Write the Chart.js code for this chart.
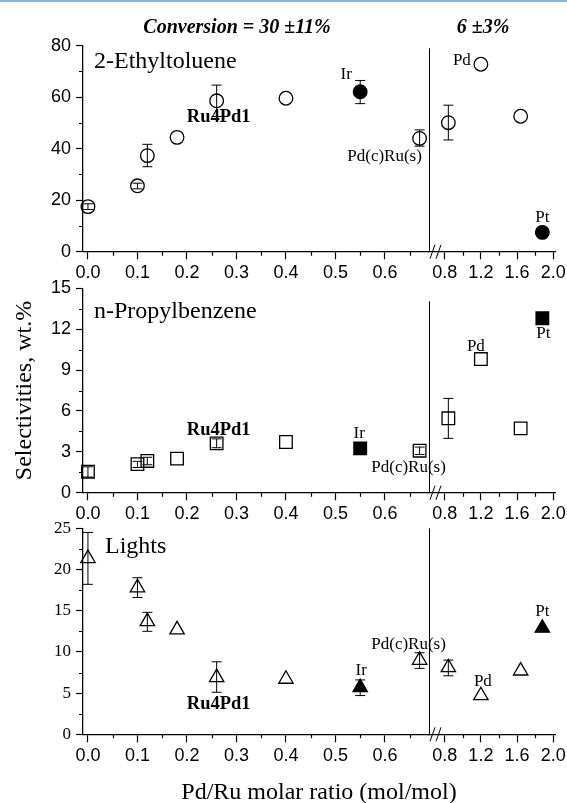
<!DOCTYPE html>
<html>
<head>
<meta charset="utf-8">
<script src="https://cdn.jsdelivr.net/npm/chart.js@4.4.0/dist/chart.umd.min.js"></script>
<style>
  html, body { margin: 0; padding: 0; background: #fff; }
  body { width: 567px; height: 803px; position: relative; overflow: hidden; }
  canvas { position: absolute; left: 0; }
  #topline { position: absolute; left: 0; top: 0; width: 567px; height: 2px; background: #8fb0dd; z-index: 5; }
</style>
</head>
<body>
<div id="topline"></div>
<canvas id="c1" width="567" height="300" style="top:0px"></canvas>
<canvas id="c2" width="567" height="290" style="top:260px"></canvas>
<canvas id="c3" width="567" height="303" style="top:500px"></canvas>
<script>
// Pd/Ru ratio of each catalyst and its name (same for all three panels)
const ratio    = [0.00, 0.10, 0.12, 0.18, 0.26, 0.40, 0.55, 0.67, 0.84, 1.20, 1.64, 1.88];
const catalyst = ['', '', '', '', 'Ru4Pd1', '', 'Ir', 'Pd(c)Ru(s)', '', 'Pd', '', 'Pt'];

// selectivities, wt.% (with error bar ends, null = no bar)
const ethyltoluene     = [17.5, 25.6, 37.3, 44.4, 58.6, 59.6, 62.1, 44.0, 50.1, 72.8, 52.6, 7.5];
const ethyltolueneLow  = [16.4, 24.4, 33.0, null, 52.5, null, 57.5, 41.0, 43.4, null, null, null];
const ethyltolueneHigh = [18.6, 26.6, 41.7, null, 64.7, null, 66.5, 47.3, 56.9, null, null, null];

const propylbenzene     = [1.54, 2.10, 2.33, 2.50, 3.62, 3.72, 3.25, 3.08, 5.46, 9.81, 4.72, 12.8];
const propylbenzeneLow  = [1.15, 1.85, 2.05, null, 3.30, null, null, 2.80, 3.99, null, null, null];
const propylbenzeneHigh = [1.90, 2.30, 2.60, null, 3.95, null, null, 3.35, 6.92, null, null, null];

const lights     = [21.35, 17.8, 13.7, 12.7, 6.9, 6.7, 5.7, 9.0, 8.1, 4.7, 7.7, 12.9];
const lightsLow  = [18.2, 16.6, 12.5, null, 5.1, null, 4.7, 8.0, 7.1, null, null, null];
const lightsHigh = [24.5, 19.0, 14.8, null, 8.8, null, 6.6, 9.9, 9.0, null, null, null];

// tick labels
const ticksLeft   = [0.0, 0.1, 0.2, 0.3, 0.4, 0.5, 0.6];
const ticksRight  = [0.8, 1.2, 1.6, 2.0];
const minorLeft   = [0.05, 0.15, 0.25, 0.35, 0.45, 0.55, 0.65];
const minorRight  = [1.0, 1.4, 1.8];
const ticksEthyl  = [0, 20, 40, 60, 80];
const ticksPropyl = [0, 3, 6, 9, 12, 15];
const ticksLights = [0, 5, 10, 15, 20, 25];

const BREAK_VALUE = 0.7;   // points above this go on the right part of the axis
const BREAK_PX = 429;      // pixel where the axis is broken
const SANS = "'Liberation Sans', Arial, sans-serif";
const SERIF = "'Liberation Serif', 'Times New Roman', serif";

Chart.defaults.font.family = SANS;
Chart.defaults.color = '#000';

function isFilled(name) { return name === 'Ir' || name === 'Pt'; }

function makeDatasets(values, low, high, style, radius) {
  const groups = [['xL', false], ['xL', true], ['xR', false], ['xR', true]];
  return groups.map(([axis, filled]) => {
    const pts = [];
    ratio.forEach((r, i) => {
      if ((r > BREAK_VALUE) === (axis === 'xR') && isFilled(catalyst[i]) === filled) {
        pts.push({ x: r, y: values[i], lo: low[i], hi: high[i], name: catalyst[i] });
      }
    });
    return {
      data: pts,
      xAxisID: axis,
      yAxisID: 'y',
      pointStyle: style,
      pointRadius: radius,
      borderColor: '#000',
      borderWidth: 1.3,
      backgroundColor: filled ? '#000' : 'rgba(0,0,0,0)',
      clip: false
    };
  });
}

function ticksFrom(list) {
  return scale => { scale.ticks = list.map(v => ({ value: v })); };
}

// put the two x scales side by side, with the break between them
const splitAxis = {
  id: 'splitAxis',
  afterLayout(chart) {
    const { xL, xR } = chart.scales;
    const a = chart.chartArea;
    xL.left = a.left; xL.right = BREAK_PX; xL.width = BREAK_PX - a.left; xL.configure();
    xR.left = BREAK_PX; xR.right = a.right; xR.width = a.right - BREAK_PX; xR.configure();
  }
};

// error bars, minor ticks, break marks and text
const decor = {
  id: 'decor',
  beforeDatasetsDraw(chart) {
    const ctx = chart.ctx;
    const y = chart.scales.y;
    ctx.save();
    ctx.strokeStyle = '#000';
    ctx.lineWidth = 1;
    chart.data.datasets.forEach((ds, di) => {
      const meta = chart.getDatasetMeta(di);
      ds.data.forEach((p, i) => {
        if (p.lo == null) return;
        const px = meta.data[i].x;
        const yl = y.getPixelForValue(p.lo), yh = y.getPixelForValue(p.hi);
        ctx.beginPath();
        ctx.moveTo(px, yl); ctx.lineTo(px, yh);
        ctx.moveTo(px - 5, yl); ctx.lineTo(px + 5, yl);
        ctx.moveTo(px - 5, yh); ctx.lineTo(px + 5, yh);
        ctx.stroke();
      });
    });
    ctx.restore();
  },
  afterDraw(chart, args, opts) {
    const ctx = chart.ctx;
    const { xL, xR, y } = chart.scales;
    const a = chart.chartArea;
    const y0 = y.getPixelForValue(0);
    ctx.save();
    ctx.strokeStyle = '#000';
    ctx.lineWidth = 1.2;
    ctx.beginPath();
    opts.minorY.forEach(v => {
      const py = Math.round(y.getPixelForValue(v)) + 0.5;
      ctx.moveTo(a.left - 4, py); ctx.lineTo(a.left, py);
    });
    minorLeft.forEach(v => {
      const px = Math.round(xL.getPixelForValue(v)) + 0.5;
      ctx.moveTo(px, y0); ctx.lineTo(px, y0 + 4);
    });
    minorRight.forEach(v => {
      const px = Math.round(xR.getPixelForValue(v)) + 0.5;
      ctx.moveTo(px, y0); ctx.lineTo(px, y0 + 4);
    });
    ctx.stroke();

    // vertical separator and // break marks
    ctx.lineWidth = 1;
    ctx.beginPath();
    ctx.moveTo(BREAK_PX + 0.5, y.getPixelForValue(opts.breakTop));
    ctx.lineTo(BREAK_PX + 0.5, y0);
    ctx.moveTo(BREAK_PX + 1, y0 + 7); ctx.lineTo(BREAK_PX + 6, y0 - 7);
    ctx.moveTo(BREAK_PX + 7, y0 + 7); ctx.lineTo(BREAK_PX + 12, y0 - 7);
    ctx.stroke();

    // catalyst annotations
    ctx.fillStyle = '#000';
    ctx.textAlign = 'center';
    ctx.textBaseline = 'middle';
    chart.data.datasets.forEach((ds, di) => {
      const meta = chart.getDatasetMeta(di);
      ds.data.forEach((p, i) => {
        const off = opts.notes[p.name];
        if (!off) return;
        ctx.font = (p.name === 'Ru4Pd1' ? 'bold 18.5px ' : '17px ') + SERIF;
        ctx.fillText(p.name, meta.data[i].x + off[0], meta.data[i].y + off[1]);
      });
    });

    // panel name
    ctx.textAlign = 'left';
    ctx.font = '24px ' + SERIF;
    ctx.fillText(opts.name, a.left + opts.nameAt[0], a.top + opts.nameAt[1]);

    if (opts.header) {
      ctx.textAlign = 'center';
      ctx.font = 'italic bold 20px ' + SERIF;
      ctx.fillText('Conversion = 30 \u00b111%', 237, 28);
      ctx.fillText('6 \u00b13%', 483, 28);
    }
    if (opts.xTitle) {
      ctx.textAlign = 'center';
      ctx.font = '24px ' + SERIF;
      ctx.fillText('Pd/Ru molar ratio (mol/mol)', (a.left + a.right) / 2, 293);
    }
    ctx.restore();
  }
};

function xScale(min, max, ticks) {
  return {
    type: 'linear', axis: 'x', position: { y: 0 }, min: min, max: max,
    afterBuildTicks: ticksFrom(ticks),
    ticks: { callback: v => v.toFixed(1), font: { size: 18, family: SANS }, color: '#000',
             padding: 4, autoSkip: false, maxRotation: 0 },
    grid: { drawOnChartArea: false, tickLength: 7, tickWidth: 1.2, tickColor: '#000' },
    border: { color: '#000', width: 1.3 }
  };
}

function makePanel(id, p) {
  new Chart(document.getElementById(id), {
    type: 'scatter',
    data: { datasets: makeDatasets(p.values, p.low, p.high, p.style, p.radius) },
    options: {
      responsive: false,
      animation: false,
      events: [],
      layout: { padding: { top: p.padTop, bottom: p.padBottom, left: 0, right: 12 } },
      plugins: { legend: { display: false }, tooltip: { enabled: false }, decor: p.decor },
      scales: {
        xL: xScale(-0.01, 0.689, ticksLeft),
        xR: xScale(0.626, 2.02, ticksRight),
        y: {
          position: 'left', min: p.ticks[0], max: p.ticks[p.ticks.length - 1],
          afterBuildTicks: ticksFrom(p.ticks),
          afterFit: s => { s.width = 83; },
          ticks: { font: p.tickFont, color: '#000', padding: 5 },
          grid: { drawOnChartArea: false, tickLength: 7, tickWidth: 1.2, tickColor: '#000' },
          border: { color: '#000', width: 1.3 },
          title: p.yTitle ? { display: true, text: 'Selectivities, wt.%', color: '#000',
                              font: { size: 24, family: SERIF }, padding: { top: 10 } } : { display: false }
        }
      }
    },
    plugins: [splitAxis, decor]
  });
}

function midpoints(t) {
  const m = [];
  for (let i = 1; i < t.length; i++) m.push((t[i - 1] + t[i]) / 2);
  return m;
}

makePanel('c1', {
  values: ethyltoluene, low: ethyltolueneLow, high: ethyltolueneHigh,
  style: 'circle', radius: 6.8, ticks: ticksEthyl,
  tickFont: { size: 18, family: SANS }, padTop: 45.7, padBottom: 48.3,
  decor: {
    name: '2-Ethyltoluene', nameAt: [11, 16.5], breakTop: 79, header: true,
    minorY: midpoints(ticksEthyl),
    notes: { 'Ru4Pd1': [2, 16], 'Ir': [-14, -17], 'Pd(c)Ru(s)': [-35, 18], 'Pd': [-19, -4], 'Pt': [0, -15] }
  }
});

makePanel('c2', {
  values: propylbenzene, low: propylbenzeneLow, high: propylbenzeneHigh,
  style: 'rect', radius: 8.9, ticks: ticksPropyl, yTitle: true,
  tickFont: { size: 18, family: SANS }, padTop: 28.3, padBottom: 57.3,
  decor: {
    name: 'n-Propylbenzene', nameAt: [11, 23.4], breakTop: 14.05,
    minorY: midpoints(ticksPropyl),
    notes: { 'Ru4Pd1': [2, -13], 'Ir': [-1, -15], 'Pd(c)Ru(s)': [-11, 17], 'Pd': [-5, -12], 'Pt': [1, 15] }
  }
});

makePanel('c3', {
  values: lights, low: lightsLow, high: lightsHigh,
  style: 'triangle', radius: 8.3, ticks: ticksLights,
  tickFont: { size: 17, family: SERIF }, padTop: 28.3, padBottom: 68.7,
  decor: {
    name: 'Lights', nameAt: [22, 18.4], breakTop: 25, xTitle: true,
    minorY: midpoints(ticksLights),
    notes: { 'Ru4Pd1': [2, 27], 'Ir': [1, -17], 'Pd(c)Ru(s)': [-11, -16], 'Pd': [2, -14], 'Pt': [0, -16] }
  }
});
</script>
</body>
</html>
